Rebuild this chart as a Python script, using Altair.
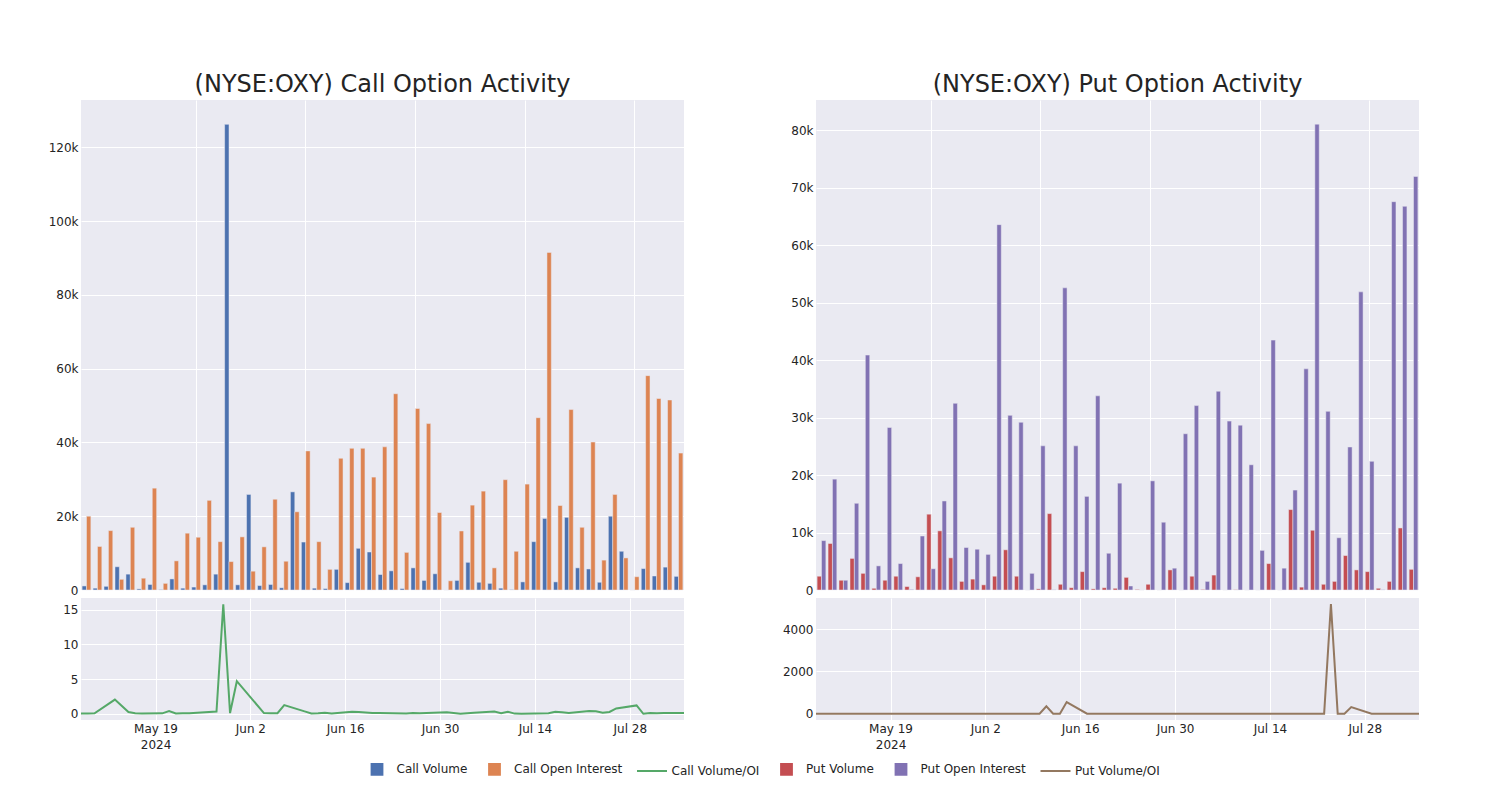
import altair as alt
import pandas as pd

FONT = "DejaVu Sans"
TXT = "rgb(36,36,36)"

dates = ["2024-05-08", "2024-05-09", "2024-05-10", "2024-05-13", "2024-05-15", "2024-05-16", "2024-05-17",
         "2024-05-20", "2024-05-21", "2024-05-22", "2024-05-23", "2024-05-24", "2024-05-28", "2024-05-29", "2024-05-30",
         "2024-05-31", "2024-06-04", "2024-06-05", "2024-06-06", "2024-06-07", "2024-06-10", "2024-06-11", "2024-06-12",
         "2024-06-13", "2024-06-14", "2024-06-17", "2024-06-18", "2024-06-20", "2024-06-21", "2024-06-25", "2024-06-26",
         "2024-06-27", "2024-07-01", "2024-07-03", "2024-07-05", "2024-07-08", "2024-07-09", "2024-07-10", "2024-07-11",
         "2024-07-12", "2024-07-16", "2024-07-17", "2024-07-18", "2024-07-19", "2024-07-22", "2024-07-23", "2024-07-24",
         "2024-07-25", "2024-07-26", "2024-07-29", "2024-07-30", "2024-07-31", "2024-08-01", "2024-08-02", "2024-08-05"]

# values in thousands
call_volume = [1.1, 0.5, 1.0, 6.3, 4.3, 0.3, 1.5, 0.1, 3.0, 0.5,
               0.8, 1.4, 4.3, 126.2, 1.4, 25.9, 1.2, 1.5, 0.6, 26.6,
               13.0, 0.5, 0.4, 5.6, 2.0, 11.3, 10.3, 4.2, 5.2, 0.4,
               6.0, 2.6, 4.4, 0.0, 2.6, 7.5, 2.1, 1.8, 0.5, 0.1,
               2.2, 13.1, 19.4, 2.2, 19.7, 6.0, 5.7, 2.1, 20.0, 10.5,
               0.0, 5.8, 3.8, 6.2, 3.7]
call_oi = [20.0, 11.8, 16.1, 2.9, 17.0, 3.2, 27.6, 1.8, 7.9, 15.4,
           14.3, 24.3, 13.1, 7.7, 14.4, 5.1, 11.7, 24.6, 7.8, 21.2,
           37.7, 13.1, 5.6, 35.7, 38.4, 38.4, 30.6, 38.8, 53.2, 10.2,
           49.2, 45.1, 21.0, 2.5, 16.0, 23.0, 26.8, 6.0, 29.9, 10.5,
           28.7, 46.7, 91.5, 22.9, 48.9, 17.0, 40.1, 8.1, 25.9, 8.7,
           3.6, 58.1, 51.9, 51.5, 37.1]
call_ratio = [0.05, 0.04, 0.06, 2.05, 0.25, 0.09, 0.05, 0.06, 0.38, 0.03,
              0.06, 0.06, 0.33, 15.8, 0.1, 4.7, 0.1, 0.06, 0.08, 1.24,
              0.34, 0.04, 0.07, 0.16, 0.05, 0.29, 0.27, 0.11, 0.1, 0.04,
              0.12, 0.06, 0.21, 0.0, 0.16, 0.33, 0.08, 0.3, 0.02, 0.01,
              0.08, 0.28, 0.21, 0.1, 0.4, 0.35, 0.14, 0.26, 0.77, 1.2,
              0.0, 0.1, 0.07, 0.12, 0.1]
put_volume = [2.4, 8.1, 1.7, 5.5, 2.9, 0.3, 1.7, 2.4, 0.6, 2.3,
              13.2, 10.3, 5.6, 1.5, 1.9, 0.9, 2.4, 7.0, 2.4, 0.0,
              0.2, 13.3, 1.0, 0.4, 3.2, 0.2, 0.4, 0.3, 2.2, 0.1,
              1.0, 0.0, 3.5, 0.0, 2.4, 0.1, 2.6, 0.0, 0.05, 0.0,
              0.0, 4.6, 0.0, 14.0, 0.5, 10.4, 1.0, 1.5, 6.0, 3.5,
              3.2, 0.3, 1.5, 10.8, 3.6]
put_oi = [8.6, 19.3, 1.7, 15.1, 40.9, 4.2, 28.3, 4.6, 0.1, 9.4,
          3.7, 15.5, 32.5, 7.4, 7.1, 6.2, 63.6, 30.4, 29.2, 2.9,
          25.1, 0.05, 52.6, 25.1, 16.3, 33.8, 6.4, 18.6, 0.7, 0.0,
          19.0, 11.8, 3.8, 27.2, 32.1, 1.5, 34.6, 29.4, 28.7, 21.8,
          6.9, 43.5, 3.8, 17.4, 38.5, 81.1, 31.1, 9.1, 24.9, 51.9,
          22.4, 0.05, 67.6, 66.8, 72.0]
put_ratio = [0, 0, 0, 0, 0, 0, 0, 0, 0, 0,
             0, 0, 0, 0, 0, 0, 0, 0, 0, 0,
             0, 350, 0, 0, 550, 0, 0, 0, 0, 0,
             0, 0, 0, 0, 0, 0, 0, 0, 0, 0,
             0, 0, 0, 0, 0, 5180, 0, 0, 314, 0,
             0, 0, 0, 0, 0]

series_names = ["Call Volume", "Call Open Interest", "Call Volume/OI",
                "Put Volume", "Put Open Interest", "Put Volume/OI"]
series_colors = ["#4C72B0", "#DD8452", "#55A868", "#C44E52", "#8172B3", "#937860"]
SQ = "M-0.36,-0.36H0.36V0.36H-0.36Z"
LN = "M-1,0H1"
series_shapes = [SQ, SQ, LN, SQ, SQ, LN]
kinds = ["Volume", "Open Interest"]

color_scale = alt.Scale(domain=series_names, range=series_colors)
leg = alt.Legend(orient="none", legendX=280, legendY=653, direction="horizontal", title=None,
                 symbolSize=900, symbolStrokeWidth=2, labelFont=FONT, labelFontSize=12, labelColor=TXT,
                 labelOffset=3.5, columnPadding=10.5, symbolOpacity=1)

grid_cats = [dates[i] for i in (10, 20, 30, 40, 50)]
tick_dates = [alt.DateTime(year=2024, month=m, date=d, utc=True)
              for m, d in [(5, 19), (6, 2), (6, 16), (6, 30), (7, 14), (7, 28)]]


def long_df(a, b, na, nb):
    n = len(dates)
    return pd.DataFrame({"date": dates + dates, "series": [na] * n + [nb] * n,
                         "kind": [kinds[0]] * n + [kinds[1]] * n, "value": a + b})


def bar_panel(df, ymax, yvals, title):
    return alt.Chart(df, title=alt.TitleParams(title, fontSize=24, font=FONT, color=TXT, fontWeight="normal",
                                               offset=3, anchor="middle")).mark_bar(
        stroke="#EAEAF2", strokeWidth=0.5).encode(
        x=alt.X("date:O", title=None, scale=alt.Scale(paddingInner=0.2, paddingOuter=0.1),
                axis=alt.Axis(labels=False, ticks=False, domain=False, grid=True, values=grid_cats,
                              bandPosition=0.5, minExtent=0, maxExtent=0, labelPadding=0)),
        xOffset=alt.XOffset("kind:N", sort=kinds, scale=alt.Scale(domain=kinds, paddingInner=0, paddingOuter=0)),
        y=alt.Y("value:Q", title=None, scale=alt.Scale(domain=[0, ymax], nice=False, zero=True),
                axis=alt.Axis(values=yvals, labelExpr="datum.value == 0 ? '0' : datum.label + 'k'",
                              minExtent=32, maxExtent=32)),
        color=alt.Color("series:N", scale=color_scale, legend=leg),
    ).properties(width=603, height=490)


def line_panel(values, name, ydom, yvals):
    df = pd.DataFrame({"date": dates, "series": [name] * len(dates), "value": values})
    return alt.Chart(df).mark_line(strokeWidth=2).encode(
        x=alt.X("date:T", title=None,
                scale=alt.Scale(type="utc", domain=[alt.DateTime(year=2024, month=5, date=8, utc=True),
                                                    alt.DateTime(year=2024, month=8, date=5, utc=True)]),
                axis=alt.Axis(values=tick_dates, grid=True, labelLineHeight=16,
                              labelExpr="utcmonth(datum.value) == 4 ? [utcFormat(datum.value, '%b %-d'), utcFormat(datum.value, '%Y')] : utcFormat(datum.value, '%b %-d')")),
        y=alt.Y("value:Q", title=None, scale=alt.Scale(domain=ydom, nice=False, zero=False),
                axis=alt.Axis(values=yvals, format="d", minExtent=32, maxExtent=32)),
        color=alt.Color("series:N", scale=color_scale, legend=leg),
    ).properties(width=603, height=122)


legend_df = pd.DataFrame({"series": series_names})
legend_chart = alt.Chart(legend_df).mark_point(filled=True, size=1, opacity=0).encode(
    color=alt.Color("series:N", scale=color_scale, legend=leg),
    stroke=alt.Stroke("series:N", scale=color_scale, legend=leg),
    shape=alt.Shape("series:N", scale=alt.Scale(domain=series_names, range=series_shapes), legend=leg),
).properties(width=1, height=1)

call_bars = bar_panel(long_df(call_volume, call_oi, "Call Volume", "Call Open Interest"),
                      132.8, [0, 20, 40, 60, 80, 100, 120], "(NYSE:OXY) Call Option Activity")
put_bars = bar_panel(long_df(put_volume, put_oi, "Put Volume", "Put Open Interest"),
                     85.3, [0, 10, 20, 30, 40, 50, 60, 70, 80], "(NYSE:OXY) Put Option Activity")
call_line = line_panel(call_ratio, "Call Volume/OI", [-0.9, 16.7], [0, 5, 10, 15])
put_line = line_panel(put_ratio, "Put Volume/OI", [-300, 5470], [0, 2000, 4000])

left = alt.vconcat(call_bars, call_line, spacing=2)
right = alt.vconcat(put_bars, put_line, spacing=2)
panels = alt.hconcat(left, right, spacing=94)

chart = alt.vconcat(panels, legend_chart, spacing=0).properties(
    padding={"left": 40, "top": 65, "right": 10, "bottom": 0}, background="white"
).configure_view(fill="#EAEAF2", stroke=None).configure_axis(
    gridColor="white", gridWidth=1, labelFont=FONT, labelFontSize=12, labelColor=TXT,
    domain=False, ticks=False, labelPadding=3
)

chart.save("out.html", embed_options={"renderer": "svg", "actions": False})
